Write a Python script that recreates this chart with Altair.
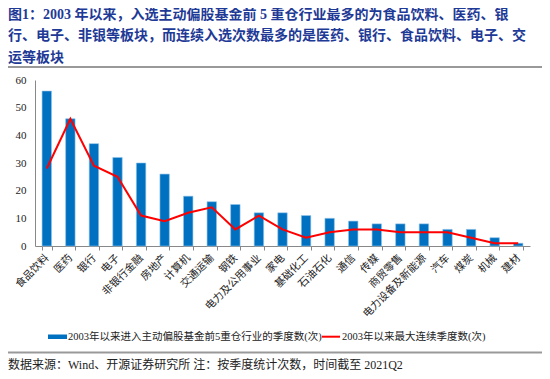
import altair as alt
import pandas as pd

industries = ["食品饮料", "医药", "银行", "电子", "非银行金融", "房地产", "计算机", "交通运输", "钢铁",
              "电力及公用事业", "家电", "基础化工", "石油石化", "通信", "传媒", "商贸零售",
              "电力设备及新能源", "汽车", "煤炭", "机械", "建材"]
quarters = [56, 46, 37, 32, 30, 26, 18, 16, 15, 12, 12, 11, 10, 9, 8, 8, 8, 6, 6, 3, 1]
max_consec = [28, 46, 29, 25, 11, 9, 12, 14, 6, 11, 6, 3, 5, 6, 6, 5, 5, 5, 3, 1, 1]
y_ticks = [0, 10, 20, 30, 40, 50, 60]

title_lines = ["图1：2003 年以来，入选主动偏股基金前 5 重仓行业最多的为食品饮料、医药、银",
               "行、电子、非银等板块，而连续入选次数最多的是医药、银行、食品饮料、电子、交",
               "运等板块"]
legend_labels = ["2003年以来进入主动偏股基金前5重仓行业的季度数(次)", "2003年以来最大连续季度数(次)"]
source_text = "数据来源：Wind、开源证券研究所  注：按季度统计次数，时间截至 2021Q2"

SERIF = "Liberation Serif, Noto Sans CJK SC"
BLUE = "#0070C0"
RED = "#FF0000"
TBLUE = "#1E3A96"

df = pd.DataFrame({"industry": industries, "q": quarters, "c": max_consec})

xaxis = alt.Axis(labelAngle=-45, labelAlign="right", labelBaseline="middle",
                 labelFont=SERIF, labelFontSize=10.5, labelColor="#222",
                 labelPadding=6, tickBand="extent", tickSize=4, tickColor="#888",
                 domainColor="#888", labelOverlap=False)
yaxis = alt.Axis(values=y_ticks, grid=False, ticks=False,
                 labelFont=SERIF, labelFontSize=11, labelColor="#222",
                 labelPadding=9, domainColor="#888", labelOverlap=False, tickCount=7)
xscale = alt.Scale(paddingInner=0.6, paddingOuter=0.3)
yscale = alt.Scale(domain=[0, 60], nice=False)

bars = alt.Chart(df).mark_bar(color=BLUE, stroke="#8EC3EA", strokeWidth=0.6).encode(
    x=alt.X("industry:N", sort=industries, title=None, scale=xscale, axis=xaxis),
    y=alt.Y("q:Q", title=None, scale=yscale, axis=yaxis))
line = alt.Chart(df).mark_line(color=RED, strokeWidth=2).encode(
    x=alt.X("industry:N", sort=industries, title=None, scale=xscale, axis=xaxis),
    y=alt.Y("c:Q", title=None, scale=yscale, axis=yaxis))

layers = [bars, line]

for i, t in enumerate(title_lines):
    layers.append(alt.Chart(pd.DataFrame({"t": [t]})).mark_text(
        align="left", baseline="middle", font=SERIF, fontSize=14, fontWeight="bold",
        color=TBLUE).encode(x=alt.value(-27), y=alt.value(-65.5 + 21.5 * i), text="t:N"))

for yy in [-13, 272.5]:
    layers.append(alt.Chart(pd.DataFrame({"a": [0]})).mark_rule(color="#999", strokeWidth=2).encode(
        x=alt.value(-27), x2=alt.value(507), y=alt.value(yy)))

# legend
layers.append(alt.Chart(pd.DataFrame({"a": [0]})).mark_rect(color=BLUE).encode(
    x=alt.value(13), x2=alt.value(32), y=alt.value(254.5), y2=alt.value(259)))
layers.append(alt.Chart(pd.DataFrame({"a": [0]})).mark_rule(color=RED, strokeWidth=2).encode(
    x=alt.value(287), x2=alt.value(305), y=alt.value(256.7)))
for xx, t in zip([33, 307], legend_labels):
    layers.append(alt.Chart(pd.DataFrame({"t": [t]})).mark_text(
        align="left", baseline="middle", font=SERIF, fontSize=10.5, color="#222").encode(
        x=alt.value(xx), y=alt.value(257), text="t:N"))

layers.append(alt.Chart(pd.DataFrame({"t": [source_text]})).mark_text(
    align="left", baseline="middle", font=SERIF, fontSize=12, color="#222").encode(
    x=alt.value(-27), y=alt.value(285), text="t:N"))

chart = alt.layer(*layers).properties(
    width=495, height=166,
    autosize=alt.AutoSizeParams(type="none"),
    padding={"left": 27, "top": 72, "right": 12, "bottom": 125},
).configure_view(stroke=None)

chart.save("out.html", embed_options={"renderer": "svg", "actions": False})
